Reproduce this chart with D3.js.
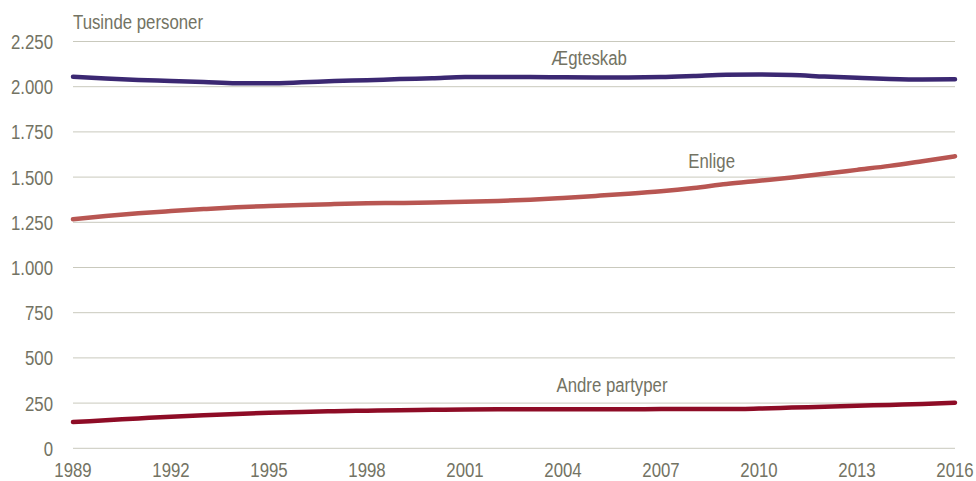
<!DOCTYPE html>
<html lang="da">
<head>
  <meta charset="utf-8" />
  <script src="https://d3js.org/d3.v7.min.js"></script>
  <style>
    body { margin: 0; background: #fff; }
    svg text { font-family: "Liberation Sans", Arial, sans-serif; font-size: 21px; fill: #737363; }
  </style>
</head>
<body>
<svg width="976" height="481"></svg>
<script>
// years on the x axis
var years = d3.range(1989, 2017);
var xTicks = [1989, 1992, 1995, 1998, 2001, 2004, 2007, 2010, 2013, 2016];
var yTicks = [0, 250, 500, 750, 1000, 1250, 1500, 1750, 2000, 2250];

// thousands of persons
var aegteskab = [2055, 2045, 2037, 2032, 2026, 2019, 2019, 2024, 2031, 2036, 2042, 2047, 2053, 2054,
                 2054, 2052, 2051, 2051, 2053, 2059, 2066, 2067, 2065, 2056, 2049, 2043, 2040, 2041];
var enlige = [1267, 1285, 1300, 1312, 1323, 1333, 1340, 1346, 1351, 1355, 1357, 1360, 1363, 1368,
              1375, 1385, 1396, 1408, 1422, 1440, 1462, 1480, 1498, 1518, 1540, 1562, 1588, 1615];
var andre = [145, 155, 165, 175, 183, 190, 196, 201, 205, 208, 211, 213, 215, 216,
             216, 216, 216, 216, 217, 217, 217, 220, 225, 230, 235, 240, 245, 252];

var seriesNames = ["Ægteskab", "Enlige", "Andre partyper"];
var seriesColors = ["#3b2872", "#b85652", "#8e0c26"];
var seriesValues = [aegteskab, enlige, andre];
// where each label sits: year and value
var labelPos = [[2004.8, 2120], [2008.55, 1550], [2005.5, 311]];

var svg = d3.select("svg");

var x = d3.scaleLinear().domain([1989, 2016]).range([73, 955]);
var y = d3.scaleLinear().domain([0, 2250]).range([448.3, 41.5]);

// the reference font is a narrow sans, so squeeze the text horizontally
function squeeze(sel, fx, fy) {
  sel.attr("transform", function(d, i){ return "translate(" + fx(d, i) + "," + fy(d, i) + ") scale(0.8,1)"; });
}

// gridlines
svg.append("g")
  .selectAll("line")
  .data(yTicks)
  .enter()
  .append("line")
  .attr("x1", x(1989))
  .attr("x2", x(2016))
  .attr("y1", function(d){ return y(d); })
  .attr("y2", function(d){ return y(d); })
  .attr("stroke", "#c9c9bd")
  .attr("stroke-width", 1);

// y tick labels
svg.append("g")
  .selectAll("text")
  .data(yTicks)
  .enter()
  .append("text")
  .attr("text-anchor", "end")
  .call(squeeze, function(){ return 53; }, function(d){ return y(d) + 7.5; })
  .text(function(d){ return d3.format(",")(d).replace(/,/g, "."); });

// x tick labels
svg.append("g")
  .selectAll("text")
  .data(xTicks)
  .enter()
  .append("text")
  .attr("text-anchor", "middle")
  .call(squeeze, function(d){ return x(d); }, function(){ return 477; })
  .text(function(d){ return d; });

svg.append("text")
  .datum(0)
  .call(squeeze, function(){ return 73; }, function(){ return 29; })
  .text("Tusinde personer");

var line = d3.line()
  .x(function(d, i){ return x(years[i]); })
  .y(function(d){ return y(d); })
  .curve(d3.curveMonotoneX);

svg.append("g")
  .selectAll("path")
  .data(seriesValues)
  .enter()
  .append("path")
  .attr("d", line)
  .attr("fill", "none")
  .attr("stroke", function(d, i){ return seriesColors[i]; })
  .attr("stroke-width", 4.5)
  .attr("stroke-linecap", "round");

svg.append("g")
  .selectAll("text")
  .data(seriesNames)
  .enter()
  .append("text")
  .attr("text-anchor", "middle")
  .call(squeeze, function(d, i){ return x(labelPos[i][0]); }, function(d, i){ return y(labelPos[i][1]); })
  .text(function(d){ return d; });
</script>
</body>
</html>
